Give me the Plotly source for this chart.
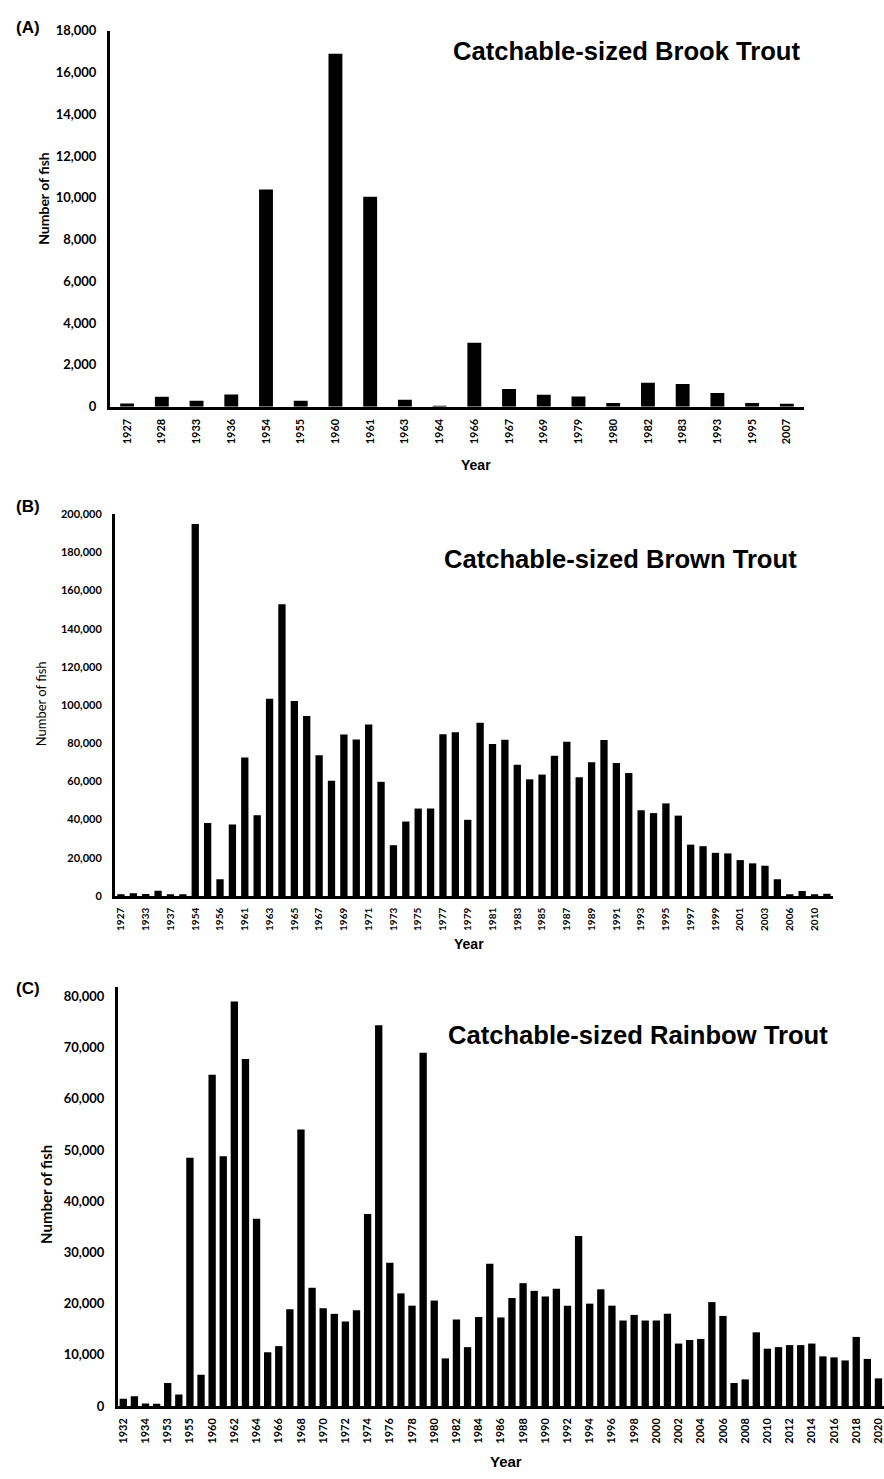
import plotly.graph_objects as go

# ---------------- Data ----------------
brook_years = ["1927", "1928", "1933", "1936", "1954", "1955", "1960", "1961", "1963", "1964",
               "1966", "1967", "1969", "1979", "1980", "1982", "1983", "1993", "1995", "2007"]
brook_fish = [150, 470, 280, 580, 10400, 280, 16900, 10050, 330, 30,
              3060, 850, 570, 490, 170, 1140, 1090, 650, 170, 140]

brown_years = ["1927", "1928", "1933", "1936", "1937", "1938", "1954", "1955", "1956", "1960"] + \
              [str(y) for y in range(1961, 2005)] + ["2006", "2008", "2010", "2011"]
brown_fish = [500, 1400, 1000, 2800, 700, 900, 194800, 38200, 8800, 37500,
              72500, 42300, 103300, 152800, 102100, 94300, 73700, 60300, 84600, 82000,
              89800, 59800, 26600, 39000, 45800, 45800, 84700, 85700, 39900, 90800,
              79600, 81900, 68700, 61100, 63600, 73400, 80800, 62200, 70100, 81700,
              69600, 64400, 44900, 43400, 48500, 42100, 26900, 26100, 22600, 22300,
              18800, 17100, 15900, 8800, 900, 2600, 700, 1200]

rainbow_years = ["1932", "1933", "1934", "1935", "1953", "1954", "1955", "1956"] + \
                [str(y) for y in range(1960, 2021)]
rainbow_fish = [1400, 1900, 500, 450, 4500, 2250, 48500, 6100,
                64700, 48800, 79000, 67800, 36600, 10500, 11700, 18900, 54000, 23100,
                19100, 18000, 16500, 18700, 37500, 74400, 28000, 22000, 19600, 69000,
                20600, 9300, 16900, 11500, 17400, 27800, 17300, 21100, 24000, 22500,
                21400, 22900, 19600, 33200, 20000, 22800, 19600, 16700, 17800, 16700,
                16700, 18000, 12200, 12900, 13100, 20300, 17600, 4500, 5200, 14400,
                11200, 11500, 11900, 11900, 12200, 9700, 9500, 8900, 13500, 9200, 5400]

titles = ["Catchable-sized Brook Trout", "Catchable-sized Brown Trout", "Catchable-sized Rainbow Trout"]
panel_tags = ["(A)", "(B)", "(C)"]

# ---------------- Layout helpers ----------------
W, H = 884, 1479


def px_x(x):
    return x / W


def px_y(y):
    return 1 - y / H


TICK_FONT = "Lato, 'Open Sans', sans-serif"
ARIAL = "'Liberation Sans', Arial, sans-serif"

fig = go.Figure()

panels = [
    dict(years=brook_years, vals=brook_fish, xdom=(108, 804), ydom=(403, 23), yr=[0, 18000], dtick=2000,
         gap=0.6, ytfs=13, xtfs=11, xticks=brook_years),
    dict(years=brown_years, vals=brown_fish, xdom=(113, 833), ydom=(897.7, 511.7), yr=[0, 200000], dtick=20000,
         gap=0.41, ytfs=11, xtfs=10, xticks=brown_years[::2]),
    dict(years=rainbow_years, vals=rainbow_fish, xdom=(116, 884), ydom=(1413.3, 990), yr=[0, 81800], dtick=10000,
         gap=0.34, ytfs=13, xtfs=11, xticks=rainbow_years[::2]),
]

layout_axes = {}
for i, p in enumerate(panels):
    n = "" if i == 0 else str(i + 1)
    fig.add_trace(go.Bar(x=p["years"], y=p["vals"], width=1 - p["gap"],
                         marker=dict(color="black", line=dict(width=0)),
                         xaxis="x" + n, yaxis="y" + n, showlegend=False))
    layout_axes["xaxis" + n] = dict(
        domain=[px_x(p["xdom"][0]), px_x(p["xdom"][1])], anchor="y" + n, type="category",
        categoryorder="array", categoryarray=p["years"],
        showline=True, linecolor="black", linewidth=2.5, showgrid=False, zeroline=False,
        ticks="", tickangle=-90, tickmode="array", tickvals=p["xticks"], ticktext=p["xticks"],
        tickfont=dict(family=TICK_FONT, size=p["xtfs"], color="black", weight="bold"),
        ticklabelstandoff=5, range=[-0.5, len(p["years"]) - 0.5],
    )
    layout_axes["yaxis" + n] = dict(
        domain=[px_y(p["ydom"][0]), px_y(p["ydom"][1])], anchor="x" + n,
        range=p["yr"], dtick=p["dtick"], tick0=0, tickformat=",",
        showline=True, linecolor="black", linewidth=2.5, showgrid=False, zeroline=False,
        ticks="", tickfont=dict(family=TICK_FONT, size=p["ytfs"], color="black", weight="bold"),
        ticklabelstandoff=8,
    )

fig.update_layout(
    width=W, height=H, margin=dict(l=0, r=0, t=0, b=0),
    paper_bgcolor="white", plot_bgcolor="white",
    **layout_axes,
)

annotations = []
# panel tags
for tag, y in zip(panel_tags, [20, 504, 991]):
    annotations.append(dict(text=tag, x=px_x(12), y=px_y(y), xref="paper", yref="paper",
                            xanchor="left", yanchor="middle", showarrow=False,
                            font=dict(family=ARIAL, size=17, color="black", weight="bold")))
# titles
for t, (cx, cy) in zip(titles, [(626, 43), (620, 557), (637, 1038)]):
    annotations.append(dict(text=t, x=px_x(cx), y=px_y(cy), xref="paper", yref="paper",
                            xanchor="center", yanchor="middle", showarrow=False,
                            font=dict(family=ARIAL, size=25.6, color="black", weight="bold")))
# y titles
for (cx, cy, fs, wt) in [(42, 192, 14, "bold"), (39, 703, 13, "normal"), (44, 1199, 15, "bold")]:
    annotations.append(dict(text="Number of fish", x=px_x(cx), y=px_y(cy), xref="paper", yref="paper",
                            xanchor="center", yanchor="middle", showarrow=False, textangle=-90,
                            font=dict(family=TICK_FONT, size=fs, color="black", weight=wt)))
# x titles
for (cx, cy, fs) in [(475, 462, 14), (468, 946, 14), (505, 1469, 15)]:
    annotations.append(dict(text="Year", x=px_x(cx), y=px_y(cy), xref="paper", yref="paper",
                            xanchor="center", yanchor="middle", showarrow=False,
                            font=dict(family=ARIAL, size=fs, color="black", weight="bold")))

fig.update_layout(annotations=annotations)
fig.write_html("out.html")
